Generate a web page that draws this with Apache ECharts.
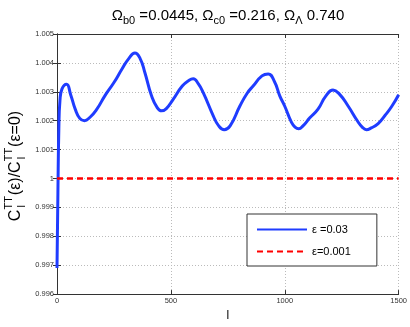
<!DOCTYPE html>
<html>
<head>
<meta charset="utf-8">
<script src="https://cdn.jsdelivr.net/npm/echarts@6/dist/echarts.min.js"></script>
<style>
  html, body { margin: 0; padding: 0; background: #fff; }
</style>
</head>
<body>
<div id="main" style="width: 410px; height: 327px"></div>
<script>
// multipole l and ratio for eps = 0.03
const ells = [0, 4, 8, 13, 22, 42, 60, 80, 100, 120, 145, 175, 210, 250, 284, 315, 342, 365, 386, 415,
  440, 459, 480, 510, 550, 580, 598, 620, 642, 686, 710, 734, 760, 803, 835, 861, 900, 927, 955, 978,
  1000, 1029, 1045, 1061, 1080, 1110, 1146, 1180, 1212, 1240, 1278, 1320, 1340, 1358, 1380, 1410,
  1439, 1470, 1500]
const ratioEps003 = [0.9969, 0.9995, 1.0017, 1.0027, 1.0031, 1.00326, 1.0029, 1.0024, 1.00208, 1.0020,
  1.00212, 1.0024, 1.00286, 1.00332, 1.00377, 1.00415, 1.00434, 1.00415, 1.00366, 1.00286,
  1.00245, 1.00234, 1.00242, 1.00274, 1.0032, 1.0034, 1.00345, 1.00328, 1.00297, 1.00217,
  1.00182, 1.00169, 1.00182, 1.00251, 1.00295, 1.0032, 1.00355, 1.00362, 1.00335, 1.00286,
  1.0025, 1.00195, 1.00178, 1.00172, 1.00182, 1.0021, 1.0024, 1.00285, 1.00306, 1.00292,
  1.00251, 1.00198, 1.00178, 1.00169, 1.00175, 1.0019, 1.00217, 1.0025, 1.0029]
// eps = 0.001 stays at 1
const ellsSmall = [0, 500, 1000, 1500]
const ratioEps0001 = [1.0, 1.0, 1.0, 1.0]

const seriesNames = ['ε =0.03', 'ε=0.001']
const xTicks = { min: 0, max: 1500, step: 500 }
const yTicks = { min: 0.996, max: 1.005, step: 0.001 }

const font = 'Liberation Sans, Arial, sans-serif'
const chart = echarts.init(document.getElementById('main'))

// measure text for the stacked y-axis label
const ctx = document.createElement('canvas').getContext('2d')
function w(t, size) {
  ctx.font = size + 'px ' + font
  return ctx.measureText(t).width
}
const big = 16
const small = 11
const parts = [
  { t: 'C', size: big, y: 0 },
  { t: 'TT', size: small, y: -7, stack: 'l' },
  { t: '(ε)/C', size: big, y: 0 },
  { t: 'TT', size: small, y: -7, stack: 'l' },
  { t: '(ε=0)', size: big, y: 0 }
]
let total = 0
parts.forEach(p => { total += w(p.t, p.size) + (p.stack ? 1 : 0) })
let cx = -total / 2
const labelChildren = []
parts.forEach(p => {
  labelChildren.push({
    type: 'text', x: cx, y: p.y,
    style: { text: p.t, font: p.size + 'px ' + font, fill: '#000', textAlign: 'left', textVerticalAlign: 'middle' }
  })
  if (p.stack) {
    labelChildren.push({
      type: 'text', x: cx + 2, y: 6,
      style: { text: p.stack, font: small + 'px ' + font, fill: '#000', textAlign: 'left', textVerticalAlign: 'middle' }
    })
  }
  cx += w(p.t, p.size) + (p.stack ? 1 : 0)
})

const tickLabel = { fontSize: 7.5, color: '#333', fontFamily: font }
const gridLine = { show: true, lineStyle: { color: '#bbb', type: [1, 2], width: 1 } }
const axisLine = { show: true, lineStyle: { color: '#333', width: 1 } }
const axisTick = { show: true, inside: true, length: 4, lineStyle: { color: '#333' } }

const option = {
  animation: false,
  backgroundColor: '#fff',
  grid: { left: 57, right: 11, top: 34, bottom: 30 },
  legend: {
    orient: 'vertical',
    left: 247,
    top: 214,
    padding: [10, 26, 9, 9],
    itemGap: 11,
    itemWidth: 50,
    itemHeight: 12,
    itemStyle: { opacity: 0 },
    borderColor: '#333',
    borderWidth: 1,
    borderRadius: 0,
    backgroundColor: '#fff',
    textStyle: { fontSize: 11, color: '#000', fontFamily: font },
    data: seriesNames
  },
  graphic: [
    {
      type: 'text', x: 228, y: 8,
      style: {
        text: '{m|Ω}{s|b0}{m| =0.0445, Ω}{s|c0}{m| =0.216, Ω}{s|Λ}{m| 0.740}',
        textAlign: 'center',
        rich: {
          m: { fontSize: 15, fontFamily: font, color: '#000', verticalAlign: 'top', lineHeight: 17 },
          s: { fontSize: 11, fontFamily: font, color: '#000', verticalAlign: 'top', lineHeight: 13, padding: [7, 0, 0, 0] }
        }
      }
    },
    {
      type: 'group', x: 16, y: 166, rotation: Math.PI / 2,
      children: labelChildren
    }
  ],
  xAxis: [
    {
      type: 'value', min: xTicks.min, max: xTicks.max, interval: xTicks.step,
      position: 'bottom',
      name: 'l', nameLocation: 'middle', nameGap: 14,
      nameTextStyle: { fontSize: 12, fontFamily: font, color: '#000' },
      axisLine: axisLine, axisTick: axisTick,
      axisLabel: Object.assign({ margin: 3, formatter: v => String(v) }, tickLabel),
      splitLine: gridLine
    },
    {
      type: 'value', min: xTicks.min, max: xTicks.max, interval: xTicks.step,
      position: 'top',
      axisLine: axisLine, axisTick: axisTick, axisLabel: { show: false }, splitLine: { show: false }
    }
  ],
  yAxis: [
    {
      type: 'value', min: yTicks.min, max: yTicks.max, interval: yTicks.step,
      position: 'left',
      axisLine: axisLine, axisTick: axisTick,
      axisLabel: Object.assign({
        margin: 3,
        formatter: v => String(Number(v.toFixed(3)))
      }, tickLabel),
      splitLine: gridLine
    },
    {
      type: 'value', min: yTicks.min, max: yTicks.max, interval: yTicks.step,
      position: 'right',
      axisLine: axisLine, axisTick: axisTick, axisLabel: { show: false }, splitLine: { show: false }
    }
  ],
  series: [
    {
      name: seriesNames[0],
      type: 'line',
      smooth: 0.5,
      symbol: 'none',
      data: ells.map((l, i) => [l, ratioEps003[i]]),
      lineStyle: { color: '#1f3cff', width: 3 },
      itemStyle: { color: '#1f3cff' },
      z: 3
    },
    {
      name: seriesNames[1],
      type: 'line',
      symbol: 'none',
      data: ellsSmall.map((l, i) => [l, ratioEps0001[i]]),
      lineStyle: { color: '#ff0000', width: 2.5, type: [6, 4] },
      itemStyle: { color: '#ff0000' },
      z: 4
    }
  ]
}
chart.setOption(option)
</script>
</body>
</html>
